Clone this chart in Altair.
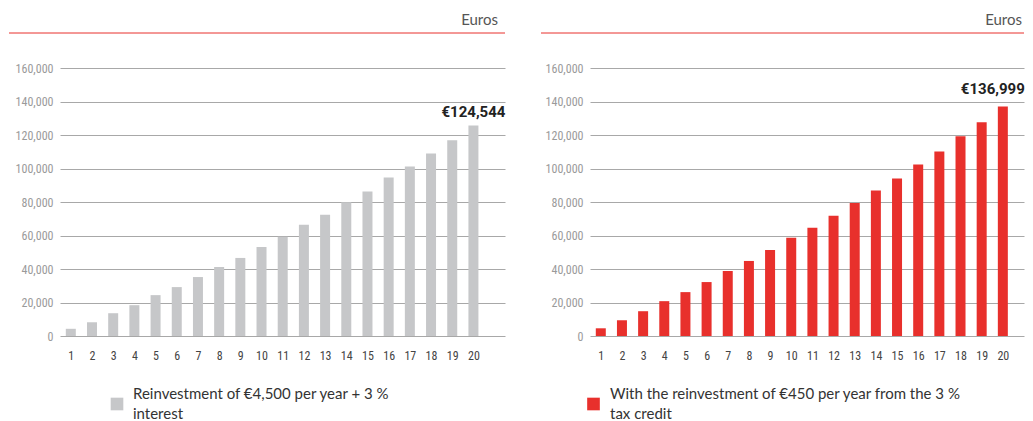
import altair as alt
import pandas as pd

years = list(range(1, 21))
left_values = [4300, 8200, 13600, 18400, 24400, 29200, 35200, 41200, 46600, 53200,
               59200, 66400, 72400, 79800, 86200, 94600, 101200, 109000, 116800, 125600]
right_values = [4600, 9400, 14800, 20800, 26200, 32200, 38800, 44800, 51400, 58600,
                64600, 71800, 79400, 86800, 94000, 102400, 110200, 119200, 127600, 136999]
totals = ["€124,544", "€136,999"]
y_ticks = [0, 20000, 40000, 60000, 80000, 100000, 120000, 140000, 160000]
unit_label = "Euros"
legend_left = ["Reinvestment of €4,500 per year + 3 %", "interest"]
legend_right = ["With the reinvestment of €450 per year from the 3 %", "tax credit"]

GRAY = "#c6c7c9"
RED = "#e8302c"
NARROW = "Roboto Condensed, Liberation Sans Narrow, Roboto, sans-serif"
H = 268


def panel(values, color, total, legend_lines, sq_x, text_x, ann_dx, ann_dy,
          rule_x0, width, xmax, euros_x):
    df = pd.DataFrame({"year": years, "value": values})
    x = alt.X("year:Q",
              scale=alt.Scale(domain=[0.49, xmax], nice=False, zero=False, padding=0),
              axis=alt.Axis(values=years, format="d", title=None, domain=False, ticks=False,
                            grid=False, labelPadding=14, labelFont=NARROW, labelFontSize=12,
                            labelColor="#444444", labelFlush=False, labelOverlap=False))
    y = alt.Y("value:Q",
              scale=alt.Scale(domain=[0, 160000], nice=False, padding=0),
              axis=alt.Axis(values=y_ticks, format=",d", title=None, domain=False, ticks=False,
                            grid=True, gridColor="#a8a8a8", gridWidth=1, labelPadding=7,
                            labelFont=NARROW, labelFontSize=12, labelColor="#9a9a9a",
                            labelOverlap=False))
    bars = alt.Chart(df).mark_bar(size=10, color=color).encode(x=x, y=y)
    ann_df = pd.DataFrame({"year": [years[-1]], "value": [values[-1]], "label": [total]})
    ann = alt.Chart(ann_df).mark_text(
        font="Roboto", fontWeight="bold", fontSize=15, color="#222222",
        align="center", baseline="alphabetic", dx=ann_dx, dy=ann_dy
    ).encode(x=x, y=y, text="label:N")
    deco = alt.Chart(pd.DataFrame({"a": [0]}))
    top_rule = deco.mark_rule(color=RED, strokeWidth=1).encode(
        x=alt.value(rule_x0), x2=alt.value(width), y=alt.value(-35))
    spacer = deco.mark_rule(strokeOpacity=0, strokeWidth=1).encode(
        x=alt.value(0), x2=alt.value(10), y=alt.value(-60))
    euros = deco.mark_text(font="Lato", fontSize=15, color="#555555", align="right",
                           baseline="alphabetic").encode(
        x=alt.value(euros_x), y=alt.value(-43), text=alt.value(unit_label))
    sq = deco.mark_point(shape="square", filled=True, size=160, color=color, opacity=1).encode(
        x=alt.value(sq_x), y=alt.value(336))
    leg = deco.mark_text(font="Lato", fontSize=15, color="#333333", align="left",
                         baseline="alphabetic", lineHeight=19.5).encode(
        x=alt.value(text_x), y=alt.value(331), text=alt.value(legend_lines))
    return alt.layer(bars, ann, top_rule, spacer, euros, sq, leg).properties(width=width, height=H)


left = panel(left_values, GRAY, totals[0], legend_left, 57, 73, 0, -9, -51, 445, 21.49, 438)
right = panel(right_values, RED, totals[1], legend_right, 3.5, 20, -10, -13, -49, 434, 21.0, 432)

chart = alt.hconcat(left, right, spacing=34).properties(
    padding={"left": 0, "top": 0, "right": 0, "bottom": 0}
).configure_view(stroke=None)

chart.save("out.html", embed_options={"renderer": "svg", "actions": False})
